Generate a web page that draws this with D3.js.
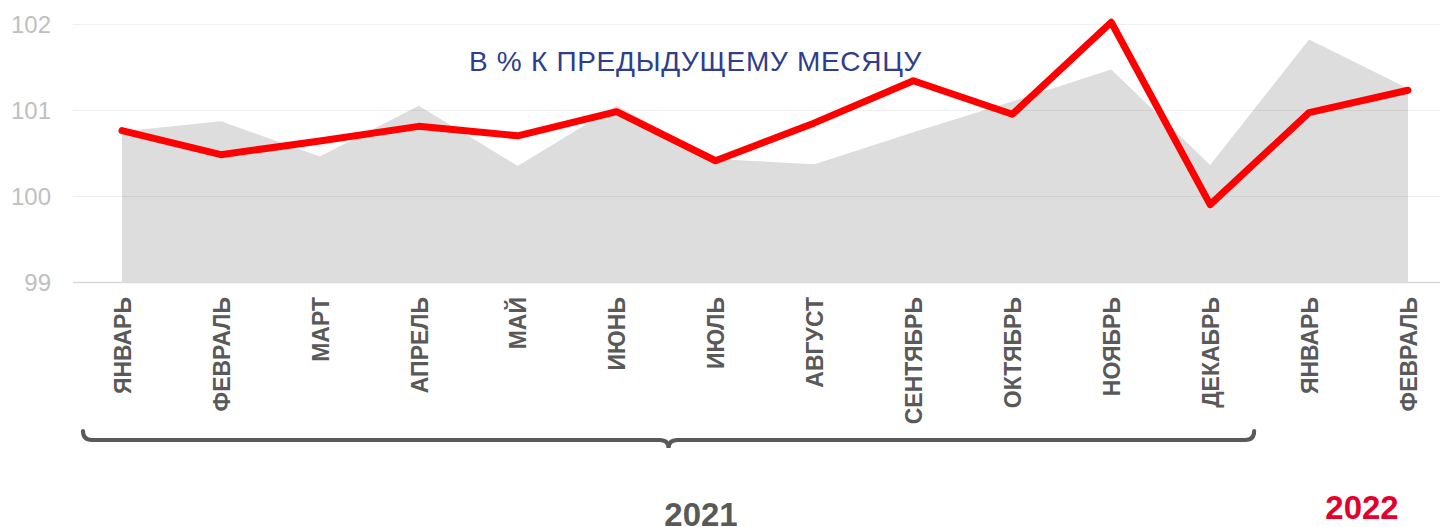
<!DOCTYPE html>
<html>
<head>
<meta charset="utf-8">
<script src="https://cdn.jsdelivr.net/npm/d3@7"></script>
<style>
    html, body { margin: 0; padding: 0; background: #fff; }
    svg { display: block; font-family: "Liberation Sans", Arial, sans-serif; }
</style>
</head>
<body>
<div id="chart"></div>
<script>
// Months on the x axis (Jan 2021 .. Feb 2022)
const months = ["ЯНВАРЬ", "ФЕВРАЛЬ", "МАРТ", "АПРЕЛЬ", "МАЙ", "ИЮНЬ", "ИЮЛЬ",
    "АВГУСТ", "СЕНТЯБРЬ", "ОКТЯБРЬ", "НОЯБРЬ", "ДЕКАБРЬ", "ЯНВАРЬ", "ФЕВРАЛЬ"];

// Red line: % to previous month
const lineValues = [100.76, 100.48, 100.64, 100.81, 100.70, 100.98, 100.41,
    100.85, 101.34, 100.95, 102.02, 99.90, 100.97, 101.23];

// Grey area: comparison series
const areaValues = [100.75, 100.87, 100.46, 101.05, 100.35, 101.05, 100.43,
    100.37, 100.74, 101.10, 101.47, 100.36, 101.82, 101.25];

const yTicks = [99, 100, 101, 102];
const title = "В % К ПРЕДЫДУЩЕМУ МЕСЯЦУ";
const years = ["2021", "2022"];

const width = 1440, height = 527;

const svg = d3.select("#chart")
    .append("svg")
    .attr("width", width)
    .attr("height", height);

const x = d3.scaleLinear()
    .domain([0, months.length - 1])
    .range([122, 1408]);

const y = d3.scaleLinear()
    .domain([99, 102])
    .range([282, 24]);

// grey area
const area = d3.area()
    .x((d, i) => x(i))
    .y0(y(99))
    .y1(d => y(d));

svg.append("path")
    .datum(areaValues)
    .attr("fill", "#dddddd")
    .attr("d", area);

// gridlines (drawn over the area, slightly visible on it)
svg.append("g")
    .selectAll("line")
    .data(yTicks)
    .join("line")
    .attr("x1", 73)
    .attr("x2", width)
    .attr("y1", d => y(d) + 0.5)
    .attr("y2", d => y(d) + 0.5)
    .attr("stroke", d => d === 99 ? "#d9d9d9" : "rgba(0,0,0,0.06)")
    .attr("stroke-width", d => d === 99 ? 1.5 : 1);

// y labels
svg.append("g")
    .selectAll("text")
    .data(yTicks)
    .join("text")
    .attr("x", 51)
    .attr("y", d => y(d))
    .attr("dy", "0.36em")
    .attr("text-anchor", "end")
    .attr("fill", "#c0c0c0")
    .style("font-size", "24px")
    .text(d => d);

// red line
const line = d3.line()
    .x((d, i) => x(i))
    .y(d => y(d));

svg.append("path")
    .datum(lineValues)
    .attr("fill", "none")
    .attr("stroke", "#ff0000")
    .attr("stroke-width", 7)
    .attr("stroke-linejoin", "round")
    .attr("stroke-linecap", "round")
    .attr("d", line);

// title
svg.append("text")
    .attr("x", 469)
    .attr("y", 71)
    .attr("fill", "#2e3d8c")
    .style("font-size", "28px")
    .style("letter-spacing", "0.7px")
    .text(title);

// month labels via axis
const xAxis = d3.axisBottom(x)
    .tickValues(d3.range(months.length))
    .tickSize(0)
    .tickFormat(i => months[i]);

const ax = svg.append("g")
    .attr("transform", `translate(0,${y(99)})`)
    .call(xAxis);
ax.select(".domain").remove();
ax.selectAll("text")
    .attr("transform", "rotate(-90)")
    .attr("x", -15)
    .attr("y", 0)
    .attr("dy", "0.36em")
    .attr("text-anchor", "end")
    .attr("fill", "#595959")
    .style("font-family", "'Liberation Sans', Arial, sans-serif")
    .style("font-weight", "bold")
    .style("font-size", "23px");

// curly brace under 2021
const bx0 = x(0) - 39, bx1 = x(11) + 44, by = 440;
const bm = (bx0 + bx1) / 2;
const brace = d3.path();
brace.moveTo(bx0, by - 9);
brace.quadraticCurveTo(bx0, by, bx0 + 9, by);
brace.lineTo(bm - 9, by);
brace.quadraticCurveTo(bm, by, bm, by + 8);
brace.quadraticCurveTo(bm, by, bm + 9, by);
brace.lineTo(bx1 - 9, by);
brace.quadraticCurveTo(bx1, by, bx1, by - 9);

svg.append("path")
    .attr("d", brace.toString())
    .attr("fill", "none")
    .attr("stroke", "#595959")
    .attr("stroke-width", 4)
    .attr("stroke-linecap", "round");

// year labels
svg.append("text")
    .attr("x", 701)
    .attr("y", 526)
    .attr("text-anchor", "middle")
    .attr("fill", "#595959")
    .style("font-weight", "bold")
    .style("font-size", "33px")
    .text(years[0]);

svg.append("text")
    .attr("x", 1362)
    .attr("y", 519)
    .attr("text-anchor", "middle")
    .attr("fill", "#e4002b")
    .style("font-weight", "bold")
    .style("font-size", "33px")
    .text(years[1]);
</script>
</body>
</html>
